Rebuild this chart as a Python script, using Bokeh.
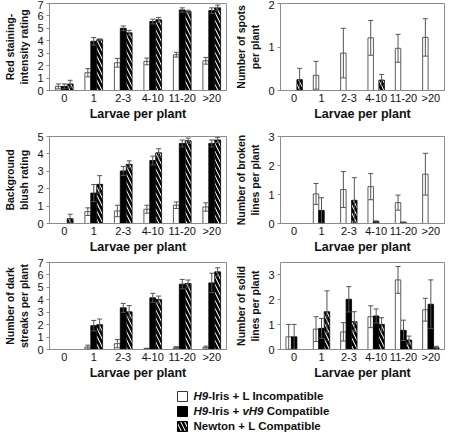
import numpy as np
from bokeh.plotting import figure
from bokeh.models import ColumnDataSource, FactorRange, Range1d, FixedTicker, Whisker, TeeHead
from bokeh.transform import dodge
from bokeh.layouts import column, row
from bokeh.core.properties import value
from bokeh.embed import file_html
from bokeh.resources import INLINE

categories = ["0", "1", "2-3", "4-10", "11-20", ">20"]
N = None

# Red staining-intensity rating
red_inc = [0.33, 1.43, 2.23, 2.34, 2.88, 2.39]
red_inc_err = [0.2, 0.33, 0.35, 0.27, 0.19, 0.27]
red_vh9 = [0.33, 3.96, 5.0, 5.55, 6.48, 6.43]
red_vh9_err = [0.2, 0.3, 0.19, 0.19, 0.17, 0.22]
red_new = [0.52, 4.09, 4.64, 5.69, 6.35, 6.65]
red_new_err = [0.3, 0.06, 0.2, 0.19, 0.11, 0.22]

# Number of spots per plant
spot_inc = [N, 0.35, 0.86, 1.21, 0.97, 1.22]
spot_inc_err = [N, 0.32, 0.57, 0.4, 0.32, 0.43]
spot_vh9 = [N, N, N, N, N, N]
spot_vh9_err = [N, N, N, N, N, N]
spot_new = [0.25, N, N, 0.24, N, N]
spot_new_err = [0.26, N, N, 0.13, N, N]

# Background blush rating
blush_inc = [N, 0.68, 0.72, 0.82, 1.05, 0.95]
blush_inc_err = [N, 0.22, 0.33, 0.23, 0.19, 0.24]
blush_vh9 = [N, 1.75, 3.02, 3.62, 4.6, 4.6]
blush_vh9_err = [N, 0.49, 0.26, 0.25, 0.2, 0.2]
blush_new = [0.28, 2.25, 3.4, 4.06, 4.76, 4.8]
blush_new_err = [0.25, 0.5, 0.2, 0.24, 0.15, 0.15]

# Number of broken lines per plant
broken_inc = [N, 1.02, 1.17, 1.27, 0.72, 1.7]
broken_inc_err = [N, 0.36, 0.62, 0.45, 0.26, 0.72]
broken_vh9 = [N, 0.45, N, 0.07, 0.04, N]
broken_vh9_err = [N, 0.44, N, 0.02, 0.01, N]
broken_new = [N, N, 0.8, N, N, N]
broken_new_err = [N, N, 0.78, N, N, N]

# Number of dark streaks per plant
streak_inc = [N, 0.2, 0.47, 0.08, 0.15, 0.15]
streak_inc_err = [N, 0.15, 0.33, 0.02, 0.08, 0.12]
streak_vh9 = [N, 1.92, 3.35, 4.16, 5.26, 5.36]
streak_vh9_err = [N, 0.42, 0.36, 0.36, 0.38, 0.78]
streak_new = [N, 2.0, 3.03, 4.02, 5.31, 6.25]
streak_new_err = [N, 0.45, 0.5, 0.28, 0.28, 0.33]

# Number of solid lines per plant
solid_inc = [0.51, 0.82, 0.71, 1.32, 2.8, 1.6]
solid_inc_err = [0.5, 0.5, 0.37, 0.44, 0.54, 0.46]
solid_vh9 = [0.51, 0.85, 2.02, 1.35, 0.77, 1.82]
solid_vh9_err = [0.5, 0.4, 0.51, 0.28, 0.41, 0.98]
solid_new = [N, 1.52, 1.12, 1.01, 0.38, 0.07]
solid_new_err = [N, 0.84, 0.4, 0.27, 0.16, 0.06]

series_labels = ["H9-Iris + L Incompatible", "H9-Iris + vH9 Compatible", "Newton + L Compatible"]

FONT = "Liberation Sans"
AX = "#8c8c8c"
ERR = "#555555"

series_styles = [
    dict(fill_color="white", line_color="#333333", line_width=0.8),
    dict(fill_color="black", line_color="black", line_width=0.8),
    dict(fill_color="white", line_color="black", line_width=0.8,
         hatch_pattern="\\", hatch_color="black", hatch_weight=2.6, hatch_scale=8.0),
]
offsets = [-0.2, 0.0, 0.2]


def arr(v):
    return np.array([np.nan if x is None else x for x in v], dtype=float)


def panel(ylabel, ymax, ticks, data, w, h, b_left, b_right, b_top):
    p = figure(x_range=FactorRange(*categories), y_range=Range1d(0, ymax),
               width=w, height=h,
               output_backend="svg", toolbar_location=None,
               min_border_left=b_left, min_border_right=b_right,
               min_border_top=b_top, min_border_bottom=30)
    p.xgrid.visible = False
    p.ygrid.visible = False
    p.outline_line_color = AX
    p.outline_line_width = 1
    p.background_fill_color = "white"
    p.border_fill_color = "white"

    src = {"cat": categories}
    keys = ["a", "b", "c"]
    for k, (vals, errs) in zip(keys, data):
        v = arr(vals)
        e = arr(errs)
        src[k] = v
        src[k + "_lo"] = v - e
        src[k + "_hi"] = v + e
    source = ColumnDataSource(src)

    for k, off, st in zip(keys, offsets, series_styles):
        p.vbar(x=dodge("cat", off, range=p.x_range), top=k, bottom=0, width=0.2,
               source=source, **st)
    for k, off in zip(keys, offsets):
        wk = Whisker(base=dodge("cat", off, range=p.x_range), upper=k + "_hi", lower=k + "_lo",
                     source=source, line_color=ERR, line_width=1, level="annotation")
        wk.upper_head = TeeHead(size=5, line_color=ERR, line_width=1)
        wk.lower_head = TeeHead(size=5, line_color=ERR, line_width=1)
        p.add_layout(wk)

    xa = p.xaxis[0]
    xa.axis_line_color = AX
    xa.major_tick_line_color = None
    xa.minor_tick_line_color = None
    xa.major_tick_out = 0
    xa.major_tick_in = 0
    xa.major_label_text_font = FONT
    xa.major_label_text_font_size = "11px"
    xa.major_label_text_color = "#111111"
    xa.major_label_standoff = 1
    xa.axis_label = "Larvae per plant"
    xa.axis_label_text_font = FONT
    xa.axis_label_text_font_size = "12.5px"
    xa.axis_label_text_font_style = "bold"
    xa.axis_label_text_color = "#111111"
    xa.axis_label_standoff = 0

    ya = p.yaxis[0]
    ya.ticker = FixedTicker(ticks=ticks)
    ya.axis_line_color = AX
    ya.major_tick_line_color = AX
    ya.major_tick_out = 3
    ya.major_tick_in = 0
    ya.minor_tick_line_color = None
    ya.major_label_text_font = FONT
    ya.major_label_text_font_size = "11px"
    ya.major_label_text_color = "#111111"
    ya.major_label_standoff = 3
    ya.axis_label = ylabel
    ya.axis_label_text_font = FONT
    ya.axis_label_text_font_size = "10.5px"
    ya.axis_label_text_font_style = "bold"
    ya.axis_label_text_color = "#111111"
    ya.axis_label_standoff = 4
    return p


LW, RW = 230, 216
H1, H2, H3 = 123, 133, 126
p1 = panel("Red staining-\nintensity rating", 7, list(range(8)),
           [(red_inc, red_inc_err), (red_vh9, red_vh9_err), (red_new, red_new_err)],
           LW, H1, 36, 4, 3)
p2 = panel("Number of spots\nper plant", 2, [0, 1, 2],
           [(spot_inc, spot_inc_err), (spot_vh9, spot_vh9_err), (spot_new, spot_new_err)],
           RW, H1, 50, 2, 3)
p3 = panel("Background\nblush rating", 5, list(range(6)),
           [(blush_inc, blush_inc_err), (blush_vh9, blush_vh9_err), (blush_new, blush_new_err)],
           LW, H2, 36, 4, 13)
p4 = panel("Number of broken\nlines per plant", 3, [0, 1, 2, 3],
           [(broken_inc, broken_inc_err), (broken_vh9, broken_vh9_err), (broken_new, broken_new_err)],
           RW, H2, 50, 2, 13)
p5 = panel("Number of dark\nstreaks per plant", 7, list(range(8)),
           [(streak_inc, streak_inc_err), (streak_vh9, streak_vh9_err), (streak_new, streak_new_err)],
           LW, H3, 36, 4, 6)
p6 = panel("Number of solid\nlines per plant", 3.5, [0, 1, 2, 3],
           [(solid_inc, solid_inc_err), (solid_vh9, solid_vh9_err), (solid_new, solid_new_err)],
           RW, H3, 50, 2, 6)

# Legend panel
LEG_W, LEG_H = 446, 50
leg = figure(width=LEG_W, height=LEG_H, x_range=Range1d(0, LEG_W), y_range=Range1d(2.4, -0.933),
             x_axis_type=None, y_axis_type=None, output_backend="svg", toolbar_location=None,
             min_border=0)
leg.grid.visible = False
leg.outline_line_color = None
rows_idx = [0, 1, 2]
swatch_x = 182
text_x = 193
for i, st in enumerate(series_styles):
    sst = dict(st)
    sst["line_width"] = 1
    leg.rect(x=[swatch_x], y=[rows_idx[i]], width=10, height=10,
             width_units="screen", height_units="screen", **sst)

# legend text pieces (italic gene names, bold rest)
pieces = [
    (0, "H9", "bold italic", 0.0), (0, "-Iris + L Incompatible", "bold", 14.7),
    (1, "H9", "bold italic", 0.0), (1, "-Iris +", "bold", 14.7),
    (1, "vH9", "bold italic", 48.9), (1, "Compatible", "bold", 73.2),
    (2, "Newton + L Compatible", "bold", 0.0),
]
lsrc = ColumnDataSource(dict(
    x=[text_x] * len(pieces), y=[pc[0] for pc in pieces], text=[pc[1] for pc in pieces],
    style=[pc[2] for pc in pieces], dx=[pc[3] for pc in pieces]))
leg.text(x="x", y="y", text="text", x_offset="dx", text_font_style="style", source=lsrc,
         text_font=value(FONT), text_font_size="11.5px", text_baseline="middle",
         text_align="left", text_color="#111111")

layout = column(row(p1, p2), row(p3, p4), row(p5, p6), leg)
open("out.html", "w").write(file_html(layout, INLINE))
